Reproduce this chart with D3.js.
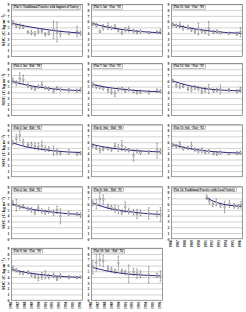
<!DOCTYPE html>
<html>
<head>
<meta charset="utf-8">
<script src="https://cdn.jsdelivr.net/npm/d3@7"></script>
<style>
  body { margin: 0; background: #fff; }
  svg { display: block; font-family: "Liberation Serif", "DejaVu Serif", serif; }
</style>
</head>
<body>
<div id="chart"></div>
<script>
// sampling dates (decimal years)
const TIMES = [1986.1, 1986.6, 1987.1, 1987.6, 1988.3, 1988.8, 1989.3, 1989.8, 1990.3,
  1990.8, 1991.3, 1992.0, 1992.5, 1993.0, 1994.2, 1995.4, 1995.9];
const TIMES_LATE = [1991.0, 1991.4, 1991.9, 1992.4, 1993.0, 1993.6, 1994.3, 1995.0, 1995.6, 1996.0];
const FIT_YEARS = [1986, 1988, 1990, 1992, 1994, 1996];
const FIT_YEARS_LATE = [1991, 1992, 1993, 1994, 1995, 1996];
const YEAR_TICKS = [1986, 1987, 1988, 1989, 1990, 1991, 1992, 1993, 1994, 1995, 1996];
const Y_TICKS = [0, 1, 2, 3, 4, 5, 6, 7, 8, 9];

const TITLES = [
  'Plot 1: Traditional Practice with Improved Variety',
  'Plot 5: Int - Flat - N2',
  'Plot 11: Sole - Flat - N0',
  'Plot 2: Int - Rid - N0',
  'Plot 7: Int - Flat - N1',
  'Plot 12: Sole - Flat - N1',
  'Plot 3: Int - Rid - N1',
  'Plot 6: Sole - Rid - N0',
  'Plot 13: Sole - Flat - N2',
  'Plot 4: Int - Rid - N2',
  'Plot 8: Sole - Rid - N1',
  'Plot 14: Traditional Practice with Local Variety',
  'Plot 9: Int - Flat - N0',
  'Plot 10: Sole - Rid - N2'
];

// measured SOC and error (kg C m-2)
const SOC_P1 = [5.8, 5.3, 5.2, 5.1, 4.2, 4.1, 3.9, 4.3, 4.4, 3.8, 4.0, 4.6, 4.2, 3.9, 4.0, 4.3, 4.0];
const ERR_P1 = [0.4, 0.3, 0.4, 0.3, 0.2, 0.4, 0.4, 0.3, 0.3, 0.3, 0.3, 1.5, 1.7, 0.5, 0.3, 0.9, 0.4];
const SOC_P5 = [5.6, 5.4, 4.3, 5.0, 5.2, 4.9, 5.1, 4.5, 4.1, 4.6, 4.7, 4.4, 4.2, 4.3, 4.1, 4.2, 4.3];
const ERR_P5 = [0.3, 0.3, 0.2, 0.5, 0.6, 0.3, 0.4, 0.3, 0.3, 0.4, 0.5, 0.3, 0.3, 0.3, 0.2, 0.2, 0.4];
const SOC_P11 = [5.5, 5.3, 5.4, 4.9, 5.0, 4.6, 4.3, 4.7, 4.4, 4.3, 4.8, 4.2, 4.3, 4.1, 4.0, 3.9, 4.2];
const ERR_P11 = [0.3, 0.3, 0.5, 0.4, 0.4, 0.3, 0.3, 1.0, 0.3, 0.3, 1.2, 0.3, 0.3, 0.2, 0.2, 0.3, 0.8];
const SOC_P2 = [6.0, 5.6, 6.4, 6.2, 5.2, 4.8, 4.6, 5.0, 5.3, 4.8, 4.6, 4.2, 4.7, 4.5, 4.4, 4.3, 4.5];
const ERR_P2 = [0.5, 0.4, 1.0, 0.8, 0.4, 0.3, 0.3, 0.3, 0.5, 0.3, 0.3, 0.3, 0.3, 0.3, 0.3, 0.3, 0.3];
const SOC_P7 = [5.3, 5.0, 4.9, 4.7, 4.4, 4.1, 3.8, 4.5, 4.6, 4.3, 4.5, 4.2, 4.0, 4.1, 4.0, 4.3, 4.2];
const ERR_P7 = [0.4, 0.3, 0.3, 0.3, 0.4, 0.4, 0.5, 0.3, 0.3, 0.3, 0.3, 0.3, 0.3, 0.3, 0.3, 0.3, 0.3];
const SOC_P12 = [6.0, 5.2, 5.0, 5.1, 4.6, 4.5, 4.8, 4.7, 4.2, 4.4, 4.6, 4.3, 4.4, 4.5, 4.4, 4.2, 4.5];
const ERR_P12 = [0.3, 0.3, 0.3, 0.3, 0.3, 0.4, 0.4, 0.4, 0.4, 0.4, 0.8, 0.3, 0.3, 0.8, 0.3, 0.3, 0.4];
const SOC_P3 = [5.9, 6.6, 7.2, 6.0, 5.5, 5.6, 5.3, 5.2, 5.4, 4.9, 4.8, 4.5, 4.3, 4.1, 4.3, 4.0, 4.1];
const ERR_P3 = [0.4, 0.7, 1.0, 0.5, 0.4, 0.4, 0.5, 0.6, 0.8, 0.5, 0.4, 0.8, 0.5, 0.3, 0.4, 0.3, 0.3];
const SOC_P6 = [5.4, 5.0, 4.6, 4.8, 4.9, 4.7, 5.3, 5.0, 5.4, 4.8, 4.6, 3.7, 4.4, 4.2, 4.3, 4.5, 4.4];
const ERR_P6 = [0.3, 0.3, 0.4, 0.3, 0.3, 0.3, 0.5, 0.6, 0.9, 0.4, 0.3, 1.0, 0.3, 0.3, 0.3, 1.3, 0.4];
const SOC_P13 = [5.5, 5.3, 5.6, 4.9, 5.0, 5.4, 4.7, 4.5, 4.6, 4.3, 4.4, 4.1, 4.0, 4.2, 4.0, 4.1, 4.2];
const ERR_P13 = [0.3, 0.3, 0.5, 0.3, 0.3, 0.6, 0.3, 0.3, 0.4, 0.3, 0.3, 0.3, 0.3, 0.3, 0.2, 0.3, 0.3];
const SOC_P4 = [6.2, 5.8, 5.5, 5.6, 5.2, 5.0, 4.6, 5.3, 4.8, 4.6, 4.9, 4.5, 5.0, 3.9, 4.4, 4.3, 4.1];
const ERR_P4 = [0.4, 1.0, 0.3, 0.3, 0.3, 0.4, 0.4, 0.5, 0.4, 0.4, 0.5, 0.5, 0.6, 1.3, 0.4, 0.3, 0.5];
const SOC_P8 = [6.2, 6.0, 6.9, 6.8, 5.6, 5.4, 5.2, 5.0, 4.6, 5.5, 4.8, 4.6, 4.3, 4.5, 4.4, 4.3, 4.2];
const ERR_P8 = [0.5, 0.8, 1.2, 0.8, 0.4, 0.4, 0.6, 0.7, 0.4, 0.9, 0.5, 0.5, 0.8, 0.5, 1.0, 0.5, 1.2];
const SOC_P14 = [7.2, 6.5, 6.0, 6.3, 5.8, 5.5, 6.0, 5.7, 5.6, 5.9];
const ERR_P14 = [0.4, 0.5, 0.4, 0.6, 0.4, 1.0, 0.6, 0.4, 0.4, 0.6];
const SOC_P9 = [5.5, 5.2, 4.8, 4.7, 4.8, 4.4, 4.2, 3.9, 4.2, 4.4, 4.1, 4.3, 3.7, 4.2, 4.0, 3.9, 4.0];
const ERR_P9 = [0.4, 0.3, 0.3, 0.3, 0.3, 0.3, 0.4, 0.5, 0.6, 0.7, 0.4, 0.4, 0.3, 0.4, 0.3, 0.2, 0.2];
const SOC_P10 = [5.7, 6.5, 7.0, 6.8, 5.5, 5.3, 5.0, 6.4, 5.0, 4.8, 4.6, 4.9, 4.6, 4.5, 4.4, 4.3, 4.2];
const ERR_P10 = [1.2, 1.4, 1.0, 1.0, 0.4, 0.4, 0.4, 1.2, 0.4, 0.4, 1.5, 0.6, 0.8, 0.6, 1.4, 0.4, 0.9];

// fitted decay curves, read at FIT_YEARS
const FIT_P1 = [5.7, 5.2, 4.8, 4.45, 4.2, 4.0];
const FIT_P5 = [5.7, 5.1, 4.7, 4.4, 4.2, 4.05];
const FIT_P11 = [5.5, 5.0, 4.6, 4.3, 4.1, 4.0];
const FIT_P2 = [5.9, 5.3, 4.9, 4.6, 4.4, 4.3];
const FIT_P7 = [5.4, 4.9, 4.6, 4.35, 4.2, 4.1];
const FIT_P12 = [6.0, 5.3, 4.8, 4.5, 4.35, 4.25];
const FIT_P3 = [5.9, 5.2, 4.8, 4.5, 4.3, 4.2];
const FIT_P6 = [5.6, 5.1, 4.8, 4.55, 4.4, 4.3];
const FIT_P13 = [5.6, 5.0, 4.6, 4.35, 4.2, 4.1];
const FIT_P4 = [6.0, 5.3, 4.9, 4.6, 4.35, 4.2];
const FIT_P8 = [6.2, 5.4, 4.9, 4.6, 4.35, 4.2];
const FIT_P14 = [7.1, 6.5, 6.1, 5.85, 5.7, 5.6];
const FIT_P9 = [5.3, 4.8, 4.45, 4.2, 4.05, 3.95];
const FIT_P10 = [5.7, 5.1, 4.7, 4.45, 4.3, 4.2];

const SOC = [SOC_P1, SOC_P5, SOC_P11, SOC_P2, SOC_P7, SOC_P12, SOC_P3, SOC_P6, SOC_P13,
  SOC_P4, SOC_P8, SOC_P14, SOC_P9, SOC_P10];
const ERR = [ERR_P1, ERR_P5, ERR_P11, ERR_P2, ERR_P7, ERR_P12, ERR_P3, ERR_P6, ERR_P13,
  ERR_P4, ERR_P8, ERR_P14, ERR_P9, ERR_P10];
const FIT = [FIT_P1, FIT_P5, FIT_P11, FIT_P2, FIT_P7, FIT_P12, FIT_P3, FIT_P6, FIT_P13,
  FIT_P4, FIT_P8, FIT_P14, FIT_P9, FIT_P10];

const WIDTH = 246;
const HEIGHT = 312;
const COL_X = [11.5, 91.5, 171.5];
const ROW_Y = [4.3, 63.5, 124.8, 186.8, 248.2];
const PW = 71;
const PH = 52;

const svg = d3.select('#chart').append('svg')
  .attr('width', WIDTH)
  .attr('height', HEIGHT)
  .attr('viewBox', `0 0 ${WIDTH} ${HEIGHT}`);

const x = d3.scaleLinear().domain([1985.9, 1996.2]).range([0, PW]);
const y = d3.scaleLinear().domain([0, 9]).range([PH, 0]);

// row titles
ROW_Y.forEach((ry) => {
  svg.append('text')
    .attr('transform', `translate(4.6,${ry + PH / 2}) rotate(-90)`)
    .attr('text-anchor', 'middle')
    .style('font-size', '4.6px')
    .style('font-weight', 'bold')
    .text('SOC (C kg m⁻²)');
});

TITLES.forEach((title, i) => {
  const row = Math.floor(i / 3);
  const col = i % 3;
  const late = i === 11;
  const times = late ? TIMES_LATE : TIMES;
  const fitYears = late ? FIT_YEARS_LATE : FIT_YEARS;
  const pts = SOC[i].map((v, k) => ({ t: times[k], v, e: ERR[i][k] }));
  const fit = FIT[i].map((v, k) => ({ t: fitYears[k], v }));

  const g = svg.append('g')
    .attr('transform', `translate(${COL_X[col]},${ROW_Y[row]})`);

  g.append('g')
    .call(d3.axisLeft(y).tickValues(Y_TICKS.slice(1)).tickSize(-PW).tickFormat(''))
    .call((gr) => gr.select('.domain').remove())
    .call((gr) => gr.selectAll('line').attr('stroke', '#9a9a9a').attr('stroke-width', 0.45));

  g.append('g')
    .call(d3.axisLeft(y).tickValues(Y_TICKS).tickSize(0).tickPadding(2).tickFormat(d3.format('d')))
    .call((ax) => ax.select('.domain').remove())
    .call((ax) => ax.selectAll('text')
      .attr('fill', '#222')
      .style('font-size', '3.8px')
      .style('font-weight', 'bold')
      .style('font-family', '"Liberation Serif", serif'));

  g.append('rect')
    .attr('width', PW)
    .attr('height', PH)
    .attr('fill', 'none')
    .attr('stroke', '#555')
    .attr('stroke-width', 0.6);

  // error bars
  const eb = g.append('g').attr('stroke', '#444').attr('stroke-width', 0.4);
  eb.selectAll('line.bar')
    .data(pts)
    .enter().append('line')
    .attr('class', 'bar')
    .attr('x1', (d) => x(d.t)).attr('x2', (d) => x(d.t))
    .attr('y1', (d) => y(d.v - d.e)).attr('y2', (d) => y(d.v + d.e));
  ['lo', 'hi'].forEach((side) => {
    eb.selectAll(`line.cap-${side}`)
      .data(pts)
      .enter().append('line')
      .attr('class', `cap-${side}`)
      .attr('x1', (d) => x(d.t) - 0.8).attr('x2', (d) => x(d.t) + 0.8)
      .attr('y1', (d) => y(side === 'lo' ? d.v - d.e : d.v + d.e))
      .attr('y2', (d) => y(side === 'lo' ? d.v - d.e : d.v + d.e));
  });

  // fitted curve
  g.append('path')
    .datum(fit)
    .attr('d', d3.line().x((d) => x(d.t)).y((d) => y(d.v)).curve(d3.curveMonotoneX))
    .attr('fill', 'none')
    .attr('stroke', '#2a2a80')
    .attr('stroke-width', 1);

  g.selectAll('circle')
    .data(pts)
    .enter().append('circle')
    .attr('cx', (d) => x(d.t))
    .attr('cy', (d) => y(d.v))
    .attr('r', 0.9)
    .attr('fill', '#fff')
    .attr('stroke', '#333')
    .attr('stroke-width', 0.4);

  // title box
  const tg = g.append('g').attr('transform', 'translate(1.5,1.2)');
  const tt = tg.append('text')
    .attr('x', 1)
    .attr('y', 2.7)
    .style('font-size', '3px')
    .style('font-weight', 'bold')
    .attr('fill', '#111')
    .text(title);
  const bb = tt.node().getBBox();
  tg.insert('rect', 'text')
    .attr('width', bb.width + 2)
    .attr('height', 3.6)
    .attr('fill', '#fff')
    .attr('stroke', '#444')
    .attr('stroke-width', 0.35);

  // year labels only on the bottom panel of each column
  const bottom = row === 4 || (row === 3 && col === 2);
  if (bottom) {
    g.append('g')
      .attr('transform', `translate(0,${PH})`)
      .call(d3.axisBottom(x).tickValues(YEAR_TICKS).tickSize(0).tickPadding(1.5).tickFormat(d3.format('d')))
      .call((ax) => ax.select('.domain').remove())
      .call((ax) => ax.selectAll('text')
        .attr('transform', 'rotate(-90)')
        .attr('text-anchor', 'end')
        .attr('dx', '-1.5')
        .attr('dy', '-0.6')
        .attr('y', 0)
        .attr('x', 0)
        .attr('fill', '#222')
        .style('font-size', '3.6px')
        .style('font-weight', 'bold')
        .style('font-family', '"Liberation Serif", serif'));
  }
});
</script>
</body>
</html>
